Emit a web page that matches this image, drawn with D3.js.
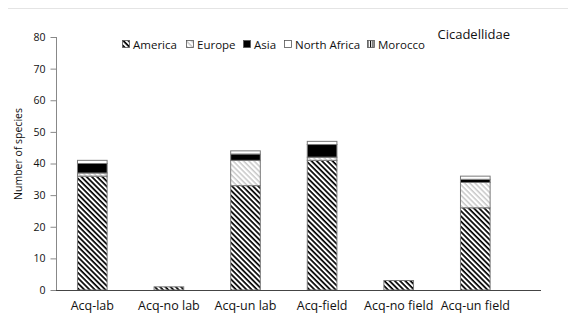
<!DOCTYPE html>
<html><head><meta charset="utf-8">
<script src="https://cdn.jsdelivr.net/npm/d3@7"></script>
<style>body{margin:0;background:#fff}svg{display:block}text{font-family:"Open Sans",sans-serif}</style>
</head><body><div id="c"></div>
<script>
const categories = ["Acq-lab","Acq-no lab","Acq-un lab","Acq-field","Acq-no field","Acq-un field"];
const seriesNames = ["America","Europe","Asia","North Africa","Morocco"];
const america = [36,1,33,41,3,26];
const europe = [1,0,8,1,0,8];
const asia = [3,0,2,4,0,1];
const northAfrica = [1,0,1,1,0,1];
const morocco = [0,0,0,0,0,0];
const yTicks = [0,10,20,30,40,50,60,70,80];

const W=568,H=320;
const svg=d3.select("#c").append("svg").attr("width",W).attr("height",H);
const defs=svg.append("defs");
function hatch(id,color,sw,per){
  const p=defs.append("pattern").attr("id",id).attr("patternUnits","userSpaceOnUse")
    .attr("width",per).attr("height",per).attr("patternTransform","rotate(45)");
  p.append("rect").attr("width",per).attr("height",per).attr("fill","#fff");
  p.append("rect").attr("x",0).attr("y",0).attr("width",per).attr("height",sw).attr("fill",color);
}
hatch("pAm","#000",1.7,3.7);
hatch("pEu","#c8c8c8",1.5,3.7);
const mp=defs.append("pattern").attr("id","pMo").attr("patternUnits","userSpaceOnUse").attr("width",2.5).attr("height",2.5);
mp.append("rect").attr("width",2.5).attr("height",2.5).attr("fill","#fff");
mp.append("rect").attr("width",1).attr("height",2.5).attr("fill","#000");
const fills=["url(#pAm)","url(#pEu)","#000","#fff","url(#pMo)"];

svg.append("line").attr("x1",8).attr("x2",W).attr("y1",8.5).attr("y2",8.5).attr("stroke","#e4e4e4");

const x=d3.scaleBand().domain(categories).range([54,513.6]).paddingInner(0.6).paddingOuter(0.3);
const y=d3.scaleLinear().domain([0,80]).range([290,37]);

const rows=categories.map((c,i)=>({cat:c,America:america[i],Europe:europe[i],Asia:asia[i],"North Africa":northAfrica[i],Morocco:morocco[i]}));
const stack=d3.stack().keys(seriesNames)(rows);

const g=svg.append("g");
stack.forEach((layer,k)=>{
  g.selectAll(null).data(layer.filter(d=>d[1]>d[0])).enter().append("rect")
   .attr("x",d=>x(d.data.cat)+0.5).attr("width",x.bandwidth()-1)
   .attr("y",d=>y(d[1])).attr("height",d=>y(d[0])-y(d[1]))
   .attr("fill",fills[k]).attr("stroke","#7a7a7a").attr("stroke-width",1);
});

// y axis
const ya=svg.append("g").attr("transform","translate(56.5,0)")
  .call(d3.axisLeft(y).tickValues(yTicks).tickSize(6).tickPadding(5));
ya.select(".domain").attr("stroke","#888").attr("d","M0,37V290.5");
ya.selectAll(".tick line").attr("stroke","#888");
ya.selectAll("text").attr("font-size",10.5).attr("fill","#111");

// x axis
const xa=svg.append("g").attr("transform","translate(0,290.5)")
  .call(d3.axisBottom(x).tickSize(0).tickPadding(11));
xa.select(".domain").attr("stroke","#444").attr("d","M56,0H541");
xa.selectAll("text").attr("font-size",12.5).attr("fill","#111");

svg.append("text").attr("transform","translate(22,154) rotate(-90)").attr("text-anchor","middle")
  .attr("font-size",10.5).attr("fill","#111").text("Number of species");

svg.append("text").attr("x",510).attr("y",39).attr("text-anchor","end").attr("font-size",13).attr("fill","#111").text("Cicadellidae");

// legend
const legX=[122,186,243,284,367];
const lg=svg.append("g");
seriesNames.forEach((n,i)=>{
  lg.append("rect").attr("x",legX[i]+0.5).attr("y",40.5).attr("width",7).attr("height",7)
    .attr("fill",fills[i]).attr("stroke","#555").attr("stroke-width",0.8);
  lg.append("text").attr("x",legX[i]+11).attr("y",48.5).attr("font-size",11.5).attr("fill","#111").text(n);
});
</script></body></html>
